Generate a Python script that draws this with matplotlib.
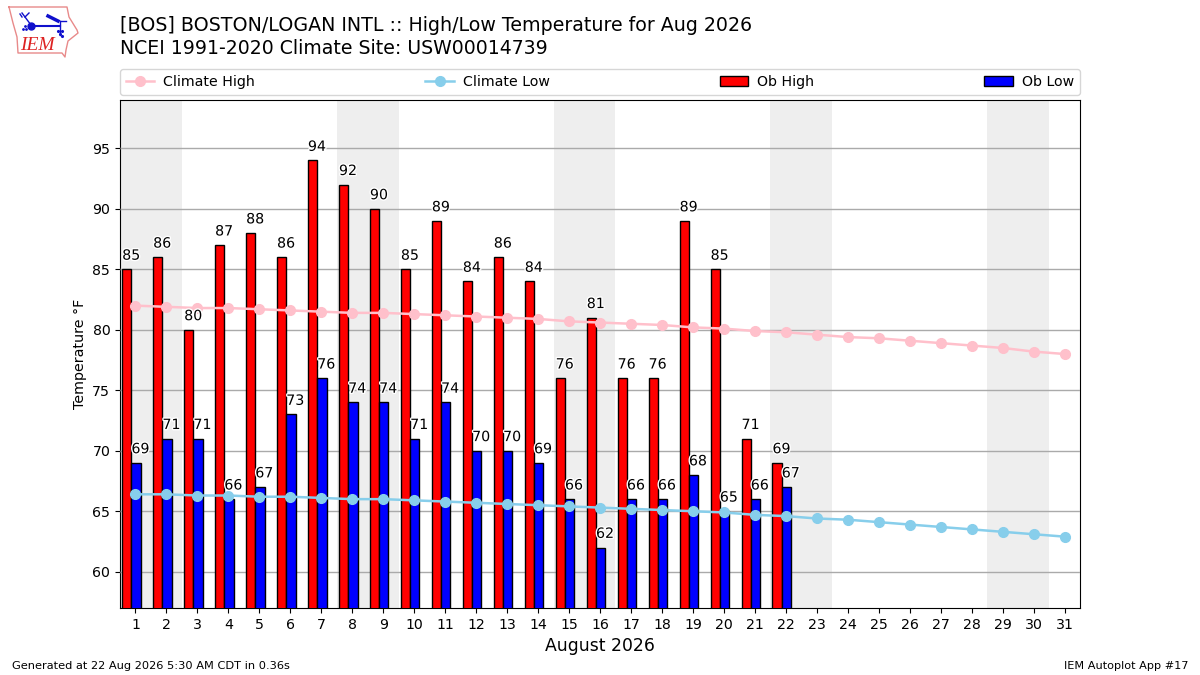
import matplotlib
matplotlib.use("Agg")
import matplotlib.pyplot as plt
import matplotlib.patheffects as pe
import numpy as np

days = list(range(1, 32))
ob_high = [85, 86, 80, 87, 88, 86, 94, 92, 90, 85, 89, 84, 86, 84, 76, 81, 76, 76, 89, 85, 71, 69]
ob_low = [69, 71, 71, 66, 67, 73, 76, 74, 74, 71, 74, 70, 70, 69, 66, 62, 66, 66, 68, 65, 66, 67]
climate_high = [82.0, 81.9, 81.8, 81.8, 81.7, 81.6, 81.5, 81.4, 81.4, 81.3, 81.2, 81.1, 81.0, 80.9, 80.7, 80.6,
                80.5, 80.4, 80.2, 80.1, 79.9, 79.8, 79.6, 79.4, 79.3, 79.1, 78.9, 78.7, 78.5, 78.2, 78.0]
climate_low = [66.4, 66.4, 66.3, 66.3, 66.2, 66.2, 66.1, 66.0, 66.0, 65.9, 65.8, 65.7, 65.6, 65.5, 65.4, 65.3,
               65.2, 65.1, 65.0, 64.9, 64.7, 64.6, 64.4, 64.3, 64.1, 63.9, 63.7, 63.5, 63.3, 63.1, 62.9]
weekend_starts = [1, 8, 15, 22, 29]

fig = plt.figure(figsize=(12, 6.75), dpi=100)
ax = fig.add_axes([0.1, 1 - 608 / 675, 0.8, 508 / 675])

for d in weekend_starts:
    ax.axvspan(d - 0.5, d + 1.5, color="#eeeeee", lw=0, zorder=1)
ax.set_yticks(range(60, 100, 5))
ax.grid(axis="y", color="#aaaaaa", lw=1, zorder=2)
ax.set_axisbelow(False)
for gl in ax.get_ygridlines():
    gl.set_zorder(2)

bw = 0.3
hx = np.array(days[:len(ob_high)]) - 0.43
lx = np.array(days[:len(ob_low)]) - 0.13
r = ax.bar(hx, ob_high, bw, align="edge", color="red", edgecolor="black", lw=1, zorder=3, label="Ob High")
b = ax.bar(lx, ob_low, bw, align="edge", color="blue", edgecolor="black", lw=1, zorder=3, label="Ob Low")
ch, = ax.plot(days, climate_high, "-o", color="pink", lw=1.8, ms=7, zorder=4, label="Climate High")
cl, = ax.plot(days, climate_low, "-o", color="skyblue", lw=1.8, ms=7, zorder=4, label="Climate Low")

stroke = [pe.withStroke(linewidth=2, foreground="white")]
for x, v in zip(hx, ob_high):
    ax.text(x + 0.29, v + 0.55, str(v), ha="center", va="bottom", fontsize=10.2, zorder=5,
            path_effects=stroke)
for x, v in zip(lx, ob_low):
    ax.text(x + 0.29, v + 0.55, str(v), ha="center", va="bottom", fontsize=10.2, zorder=5,
            path_effects=stroke)

ax.set_xlim(0.5, 31.5)
ax.set_ylim(57, 99)
ax.set_xticks(days)
ax.tick_params(labelsize=10.2)
ax.set_ylabel("Temperature \u00b0F", fontsize=10.3, labelpad=4)
ax.set_xlabel("August 2026", fontsize=12.4, labelpad=4)

ax.legend(handles=[ch, cl, r, b], loc="lower left", bbox_to_anchor=(0, 1.0095, 1, 0.05), mode="expand",
          ncol=4, fontsize=10.2, borderaxespad=0, borderpad=0.42, handletextpad=0.65)

fig.text(120 / 1200, 1 - 31 / 675, "[BOS] BOSTON/LOGAN INTL :: High/Low Temperature for Aug 2026", fontsize=13.7, va="baseline")
fig.text(120 / 1200, 1 - 54 / 675, "NCEI 1991-2020 Climate Site: USW00014739", fontsize=13.6, va="baseline")
fig.text(12 / 1200, 1 - 669 / 675, "Generated at 22 Aug 2026 5:30 AM CDT in 0.36s", fontsize=8.2, va="baseline")
fig.text(1188 / 1200, 1 - 669 / 675, "IEM Autoplot App #17", fontsize=8.1, va="baseline", ha="right")

# IEM logo, decorative, in pixel coordinates
logo = fig.add_axes([0, 0, 1, 1], facecolor="none")
logo.set_xlim(0, 1200)
logo.set_ylim(675, 0)
logo.axis("off")
iowa_x = [9, 67, 69, 77, 78, 68, 66, 65, 62, 18, 17, 13, 9]
iowa_y = [7, 7, 17, 30, 33, 41, 50, 57, 53, 53, 37, 23, 7]
logo.plot(iowa_x, iowa_y, color="#e88a8a", lw=1)
blue = "#1010cc"
logo.plot([31, 60], [26, 26], color=blue, lw=1.5)
logo.plot([60, 66], [21, 21], color=blue, lw=1)
logo.plot([22, 31], [13, 25], color=blue, lw=1)
logo.plot([22, 20], [17, 14], color=blue, lw=1)
logo.plot([25, 29], [17, 13], color=blue, lw=1)
logo.plot([60, 60], [21, 35], color=blue, lw=1)
logo.plot([48, 58], [16, 21], color=blue, lw=2.5)
logo.plot([31], [26], "o", color=blue, ms=5)
logo.plot([23, 26, 25], [29, 29, 26], ".", color=blue, ms=2)
logo.plot([58, 62, 60, 62], [31, 31, 34, 36], ".", color=blue, ms=2.5)
logo.text(37, 45, "IEM", color="#dd2222", family="Liberation Serif", style="italic", fontsize=14, ha="center", va="center")

fig.savefig("out.png", dpi=100)
